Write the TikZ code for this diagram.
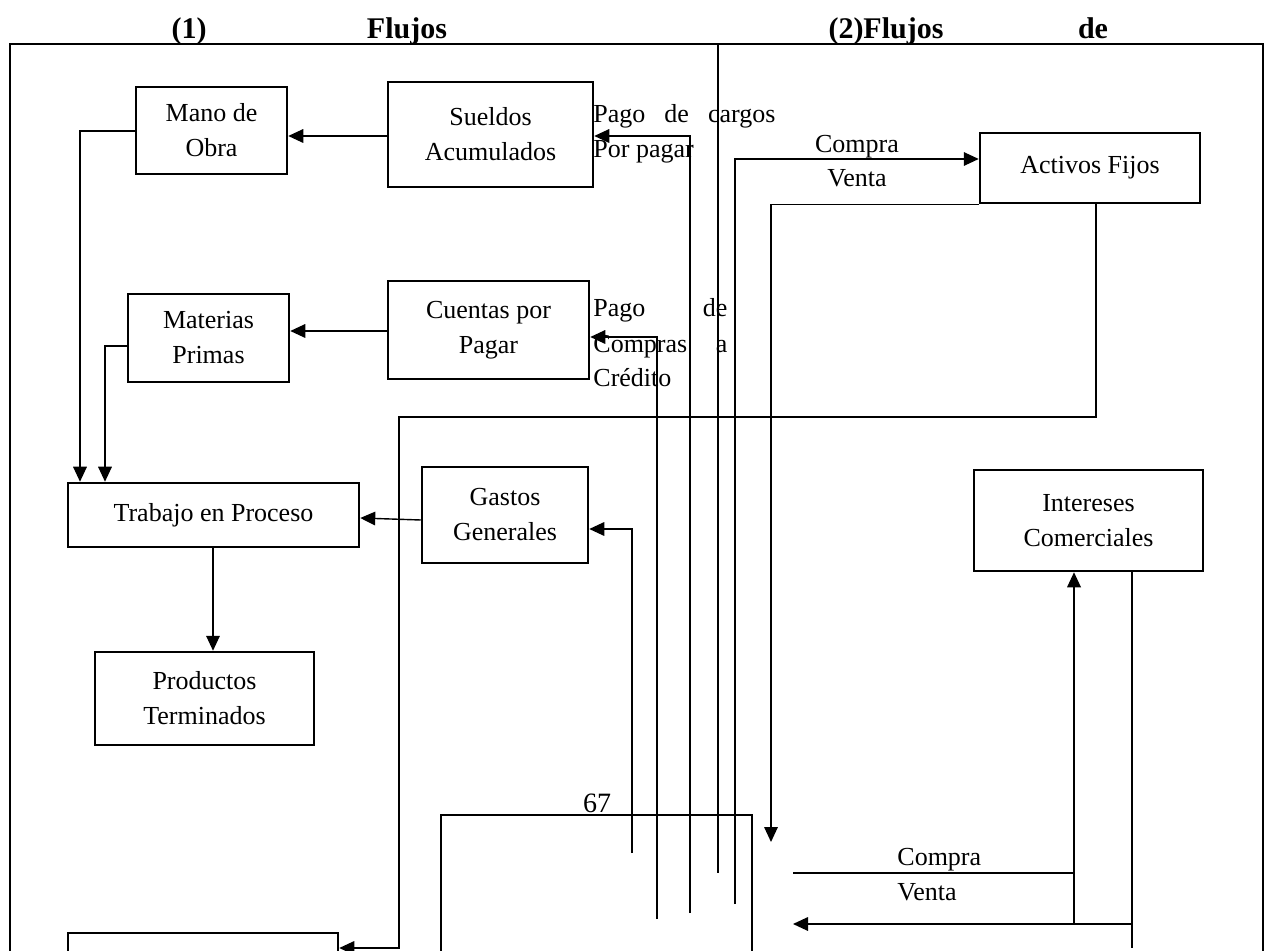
\documentclass[tikz,border=0pt]{standalone}
\usepackage{fontspec}
\setmainfont{Liberation Serif}
\usetikzlibrary{arrows.meta}
\begin{document}
\begin{tikzpicture}[x=0.5pt,y=-0.5pt,
  box/.style={draw, line width=1.25pt, align=center, inner sep=0pt,
    font=\fontsize{13}{17.5}\selectfont},
  link/.style={line width=0.7pt},
  arr/.style={link, -{Triangle[length=7.5pt,width=6.8pt]}},
  lbl/.style={inner sep=0pt, font=\fontsize{13}{17.5}\selectfont},
  ttl/.style={inner sep=0pt, anchor=base, font=\fontsize{15}{18}\selectfont\bfseries}]
\useasboundingbox (0,0) rectangle (1268,951);
\clip (0,0) rectangle (1268,951);

% headings
\node[ttl] (t1) at (189,39) {(1)};
\node[ttl] (t2) at (407,39) {Flujos};
\node[ttl] (t3) at (886,39) {(2)Flujos};
\node[ttl] (t4) at (1093,39) {de};

% outer frame
\draw[line width=0.8pt] (10,1000) -- (10,44) -- (1263,44) -- (1263,1000);

% accounts
\node[box, minimum width=75.5pt, minimum height=43.5pt] (mano) at (211.5,130.5) {Mano de\\Obra};
\node[box, minimum width=102.5pt, minimum height=52.5pt] (sueldos) at (490.5,134.5) {Sueldos\\Acumulados};
\node[box, minimum width=110pt, minimum height=35pt] (activos) at (1090,168) {Activos Fijos};
\node[box, minimum width=100.5pt, minimum height=49pt] (cuentas) at (488.5,330) {Cuentas por\\Pagar};
\node[box, minimum width=80.5pt, minimum height=44pt] (materias) at (208.5,338) {Materias\\Primas};
\node[box, minimum width=145.5pt, minimum height=32pt] (trabajo) at (213.5,515) {Trabajo en Proceso};
\node[box, minimum width=83pt, minimum height=48pt] (gastos) at (505,515) {Gastos\\Generales};
\node[box, minimum width=109.5pt, minimum height=46.5pt] (productos) at (204.5,698.5) {Productos\\Terminados};
\node[box, minimum width=114.5pt, minimum height=50.5pt] (intereses) at (1088.5,520.5) {Intereses\\Comerciales};
\node[box, minimum width=155.5pt, minimum height=92.5pt] (caja) at (596.5,907.5) {};
\node[box, minimum width=135pt, minimum height=33.5pt] (bl) at (203,966.5) {};

% flow labels
\node[lbl, anchor=base west] (l1) at (593,123) {\makebox[91pt][s]{Pago de cargos}};
\node[lbl, anchor=base west] (l2) at (593,158) {Por pagar};
\node[lbl, anchor=base west] (l3) at (593,317) {\makebox[67pt][s]{Pago\hfill de}};
\node[lbl, anchor=base west] (l4) at (593,353) {\makebox[67pt][s]{Compras\hfill a}};
\node[lbl, anchor=base west] (l5) at (593,387) {Crédito};
\node[lbl, anchor=base] (l6) at (857,153) {Compra};
\node[lbl, anchor=base] (l7) at (857,187) {Venta};
\node[lbl, anchor=base west] (l8) at (897,865) {Compra};
\node[lbl, anchor=base west] (l9) at (897,900) {Venta};
\node[lbl, anchor=base, font=\fontsize{14}{17}\selectfont] (n67) at (597,812) {67};

% free ends of the flow lines
\coordinate (pc) at (690,913);
\coordinate (pcc) at (657,919);
\coordinate (gg) at (632,853);
\coordinate (ct) at (718,44);
\coordinate (cb) at (718,873);
\coordinate (cv) at (735,904);
\coordinate (vt) at (771,842);
\coordinate (cl) at (793,873);
\coordinate (iu) at (1074,923);
\coordinate (vb) at (1132,948);
\coordinate (va) at (793,924);

% production flows
\draw[arr] (sueldos.west |- 0,136) -- (mano.east |- 0,136);
\draw[arr] (mano.west |- 0,131) -| (trabajo.north -| 80,0);
\draw[arr] (materias.west |- 0,346) -| (trabajo.north -| 105,0);
\draw[arr] (cuentas.west |- 0,331) -- (materias.east |- 0,331);
\draw[arr] (gastos.west |- 0,520) -- (trabajo.east |- 0,518);
\draw[arr] (trabajo.south -| 213,0) -- (productos.north -| 213,0);

% payment flows
\draw[arr] (pc) |- (sueldos.east |- 0,136);
\draw[arr] (pcc) |- (cuentas.east |- 0,337);
\draw[arr] (gg) |- (gastos.east |- 0,529);
\draw[link] (ct) -- (cb);

% fixed assets
\draw[arr] (cv) |- (activos.west |- 0,159);
\draw[arr] (activos.south west) -| (vt);
\draw[arr] (activos.south -| 1096,0) |- (399,417) |- (bl.east |- 0,948);

% commercial interest
\draw[link] (cl) -- (cl -| iu);
\draw[arr] (iu) -- (intereses.south -| iu);
\draw[link] (intereses.south -| vb) -- (vb);
\draw[arr] (vb |- va) -- (va);
\end{tikzpicture}
\end{document}
